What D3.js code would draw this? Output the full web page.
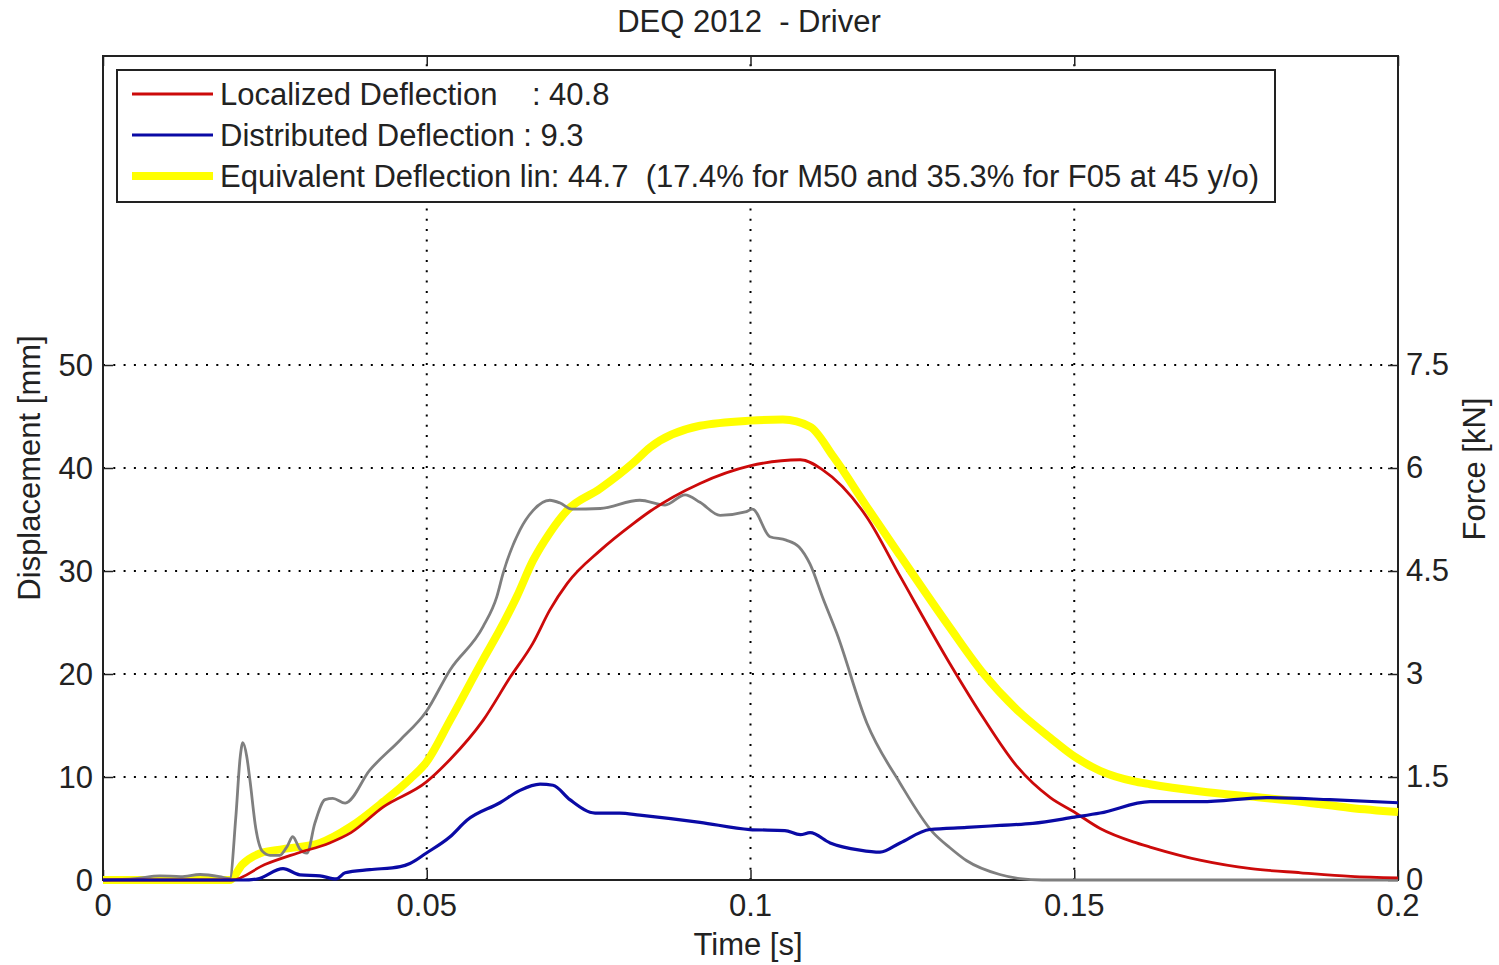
<!DOCTYPE html>
<html>
<head>
<meta charset="utf-8">
<script src="https://cdn.jsdelivr.net/npm/d3@7"></script>
<style>
  body { margin: 0; background: #fff; }
  svg text { font-family: "Liberation Sans", Arial, sans-serif; fill: #222; }
</style>
</head>
<body>
<div id="container"></div>
<script>
// time [s] + values
var redTime = [0, 0.0199, 0.025, 0.03, 0.035, 0.0383, 0.0433, 0.0499, 0.0536, 0.0587, 0.0629, 0.0664, 0.069, 0.0717, 0.0768, 0.0819, 0.0845, 0.0922, 0.0999, 0.1077, 0.1112, 0.118, 0.1231, 0.1308, 0.1359, 0.1412, 0.1463, 0.15, 0.154, 0.1591, 0.1617, 0.1696, 0.1773, 0.185, 0.1927, 0.2]
var redDisp = [0, 0, 1.5, 2.6, 3.6, 4.6, 7.1, 9.5, 11.7, 15.5, 19.7, 23, 26.2, 28.8, 32, 34.6, 35.8, 38.5, 40.2, 40.8, 39.8, 35.2, 29.5, 21, 15.8, 11, 8, 6.6, 5.0, 3.7, 3.2, 1.9, 1.1, 0.7, 0.35, 0.2]

var blueTime = [0, 0.0215, 0.0238, 0.0278, 0.0304, 0.0335, 0.036, 0.0374, 0.0412, 0.0459, 0.0474, 0.0499, 0.0536, 0.0562, 0.0613, 0.0644, 0.0675, 0.0695, 0.0721, 0.076, 0.0798, 0.0829, 0.0922, 0.0999, 0.1053, 0.1077, 0.1092, 0.1123, 0.1169, 0.12, 0.1231, 0.1277, 0.1334, 0.1385, 0.1436, 0.15, 0.154, 0.1617, 0.1696, 0.1797, 0.1895, 0.2]
var blueDisp = [0, 0, 0.1, 1.1, 0.5, 0.4, 0.1, 0.7, 1.0, 1.3, 1.6, 2.6, 4.2, 5.8, 7.5, 8.7, 9.3, 9.2, 7.8, 6.5, 6.5, 6.3, 5.6, 4.9, 4.8, 4.4, 4.6, 3.6, 2.9, 2.7, 3.6, 4.9, 5.1, 5.3, 5.5, 6.1, 6.5, 7.6, 7.6, 8.0, 7.8, 7.5]

var yellowTime = [0, 0.0196, 0.0215, 0.0243, 0.0278, 0.0335, 0.0383, 0.0433, 0.0474, 0.0499, 0.0536, 0.0587, 0.0613, 0.0639, 0.0664, 0.069, 0.0717, 0.0768, 0.0819, 0.0845, 0.0922, 0.0999, 0.105, 0.1092, 0.1128, 0.118, 0.1231, 0.1308, 0.1359, 0.1412, 0.1463, 0.15, 0.154, 0.1591, 0.1617, 0.1696, 0.1773, 0.185, 0.1927, 0.2]
var yellowDisp = [0, 0, 1.5, 2.6, 3.0, 3.6, 5.2, 7.6, 9.8, 11.4, 15.5, 21.4, 24.3, 27.5, 31, 33.7, 35.9, 38, 40.5, 42, 44.1, 44.6, 44.7, 44, 41.1, 36.2, 31.5, 24.5, 20.1, 16.5, 13.8, 12, 10.6, 9.6, 9.3, 8.6, 8.1, 7.6, 7.0, 6.6]

var grayTime = [0, 0.005, 0.0088, 0.012, 0.015, 0.018, 0.0196, 0.0205, 0.0212, 0.0216, 0.0222, 0.0227, 0.0236, 0.0246, 0.0258, 0.0273, 0.0285, 0.0293, 0.0304, 0.0315, 0.0327, 0.0343, 0.0355, 0.0374, 0.0412, 0.0459, 0.0499, 0.0536, 0.0587, 0.0608, 0.0618, 0.0644, 0.0664, 0.069, 0.0706, 0.0724, 0.0768, 0.0829, 0.0868, 0.0899, 0.0922, 0.0953, 0.0992, 0.1003, 0.103, 0.1055, 0.1075, 0.1092, 0.1112, 0.1133, 0.118, 0.1231, 0.1282, 0.1308, 0.1334, 0.1385, 0.1416, 0.145, 0.2]
var grayForce = [0, 0.02, 0.06, 0.05, 0.08, 0.05, 0.02, 0.9, 1.8, 2.0, 1.8, 1.45, 0.75, 0.42, 0.36, 0.36, 0.5, 0.63, 0.45, 0.39, 0.82, 1.17, 1.19, 1.12, 1.6, 2.04, 2.45, 3.06, 3.69, 4.12, 4.47, 5.1, 5.38, 5.53, 5.49, 5.4, 5.41, 5.53, 5.46, 5.61, 5.5, 5.31, 5.36, 5.4, 5.0, 4.95, 4.85, 4.6, 4.1, 3.6, 2.28, 1.41, 0.69, 0.47, 0.28, 0.08, 0.02, 0, 0]

var xTicks = [0, 0.05, 0.1, 0.15, 0.2]
var xTickLabels = ["0", "0.05", "0.1", "0.15", "0.2"]
var leftTicks = [0, 10, 20, 30, 40, 50]
var rightTicks = [0, 1.5, 3, 4.5, 6, 7.5]
var legendLabels = [
    "Localized Deflection    : 40.8",
    "Distributed Deflection : 9.3",
    "Equivalent Deflection lin: 44.7  (17.4% for M50 and 35.3% for F05 at 45 y/o)"
]

var W = 1499, H = 965
// plot box (window.top is read-only, so no "top" here)
var pl = 103, pr = 1398, pt = 56, pb = 880
var fs = 31

var svg = d3.select('#container').append('svg')
    .attr('width', W).attr('height', H)

var x = d3.scaleLinear().domain([0, 0.2]).range([pl, pr])
var y = d3.scaleLinear().domain([0, 80]).range([pb, pt])
var y2 = d3.scaleLinear().domain([0, 12]).range([pb, pt])

// grid
svg.append('g').selectAll('line').data(leftTicks.slice(1)).enter().append('line')
    .attr('x1', pl).attr('x2', pr)
    .attr('y1', d => y(d)).attr('y2', d => y(d))
    .attr('stroke', '#000').attr('stroke-width', 2)
    .attr('stroke-dasharray', '2,8.3')
svg.append('g').selectAll('line').data(xTicks.slice(1, 4)).enter().append('line')
    .attr('x1', d => x(d)).attr('x2', d => x(d))
    .attr('y1', pb).attr('y2', pt)
    .attr('stroke', '#000').attr('stroke-width', 2)
    .attr('stroke-dasharray', '2,8.3')

// axes (ticks inside)
svg.append('g').attr('transform', `translate(0,${pb})`)
    .call(d3.axisTop(x).tickValues(xTicks).tickSize(10).tickFormat(''))
svg.append('g').attr('transform', `translate(0,${pt})`)
    .call(d3.axisBottom(x).tickValues(xTicks).tickSize(10).tickFormat(''))
svg.append('g').attr('transform', `translate(${pl},0)`)
    .call(d3.axisRight(y).tickValues(leftTicks).tickSize(10).tickFormat(''))
svg.append('g').attr('transform', `translate(${pr},0)`)
    .call(d3.axisLeft(y2).tickValues(rightTicks).tickSize(10).tickFormat(''))
svg.selectAll('.domain').remove()
svg.selectAll('.tick line').attr('stroke', '#222').attr('stroke-width', 1.5)

svg.append('rect')
    .attr('x', pl).attr('y', pt)
    .attr('width', pr - pl).attr('height', pb - pt)
    .attr('fill', 'none').attr('stroke', '#222').attr('stroke-width', 2)

// tick labels
svg.append('g').selectAll('text').data(xTicks).enter().append('text')
    .attr('x', d => x(d)).attr('y', pb + 36)
    .attr('text-anchor', 'middle').style('font-size', fs + 'px')
    .text((d, i) => xTickLabels[i])
svg.append('g').selectAll('text').data(leftTicks).enter().append('text')
    .attr('x', pl - 10).attr('y', d => y(d) + 11)
    .attr('text-anchor', 'end').style('font-size', fs + 'px')
    .text(d => d)
svg.append('g').selectAll('text').data(rightTicks).enter().append('text')
    .attr('x', pr + 8).attr('y', d => y2(d) + 10)
    .attr('text-anchor', 'start').style('font-size', fs + 'px')
    .text(d => d)

// lines
var line = d3.line().curve(d3.curveMonotoneX).x(d => x(d[0])).y(d => y(d[1]))
var line2 = d3.line().curve(d3.curveMonotoneX).x(d => x(d[0])).y(d => y2(d[1]))

svg.append('path').datum(d3.zip(yellowTime, yellowDisp))
    .attr('d', line).attr('fill', 'none')
    .attr('stroke', '#ffff00').attr('stroke-width', 8).attr('stroke-linejoin', 'round')
svg.append('path').datum(d3.zip(grayTime, grayForce))
    .attr('d', line2).attr('fill', 'none')
    .attr('stroke', '#7f7f7f').attr('stroke-width', 2.8).attr('stroke-linejoin', 'round')
svg.append('path').datum(d3.zip(redTime, redDisp))
    .attr('d', line).attr('fill', 'none')
    .attr('stroke', '#cc0a0a').attr('stroke-width', 2.8).attr('stroke-linejoin', 'round')
svg.append('path').datum(d3.zip(blueTime, blueDisp))
    .attr('d', line).attr('fill', 'none')
    .attr('stroke', '#0a0aa5').attr('stroke-width', 3.2).attr('stroke-linejoin', 'round')

// legend
var lg = svg.append('g')
lg.append('rect').attr('x', 117).attr('y', 70).attr('width', 1158).attr('height', 132)
    .attr('fill', '#fff').attr('stroke', '#222').attr('stroke-width', 2)
var legColors = ['#cc0a0a', '#0a0aa5', '#ffff00']
var legWidths = [2.8, 3.2, 8]
var rowY = [94, 135, 176]
legendLabels.forEach(function(lab, i) {
    lg.append('line').attr('x1', 132).attr('x2', 213)
        .attr('y1', rowY[i]).attr('y2', rowY[i])
        .attr('stroke', legColors[i]).attr('stroke-width', legWidths[i])
    lg.append('text').attr('x', 220).attr('y', rowY[i] + 11)
        .style('font-size', fs + 'px').style('white-space', 'pre')
        .text(lab)
})

// titles
svg.append('text').attr('x', 749).attr('y', 32)
    .attr('text-anchor', 'middle').style('font-size', fs + 'px').style('white-space', 'pre')
    .text('DEQ 2012  - Driver')
svg.append('text').attr('x', 748).attr('y', 955)
    .attr('text-anchor', 'middle').style('font-size', fs + 'px')
    .text('Time [s]')
svg.append('text').attr('transform', `translate(40,468) rotate(-90)`)
    .attr('text-anchor', 'middle').style('font-size', fs + 'px')
    .text('Displacement [mm]')
svg.append('text').attr('transform', `translate(1485,469) rotate(-90)`)
    .attr('text-anchor', 'middle').style('font-size', fs + 'px')
    .text('Force [kN]')
</script>
</body>
</html>
